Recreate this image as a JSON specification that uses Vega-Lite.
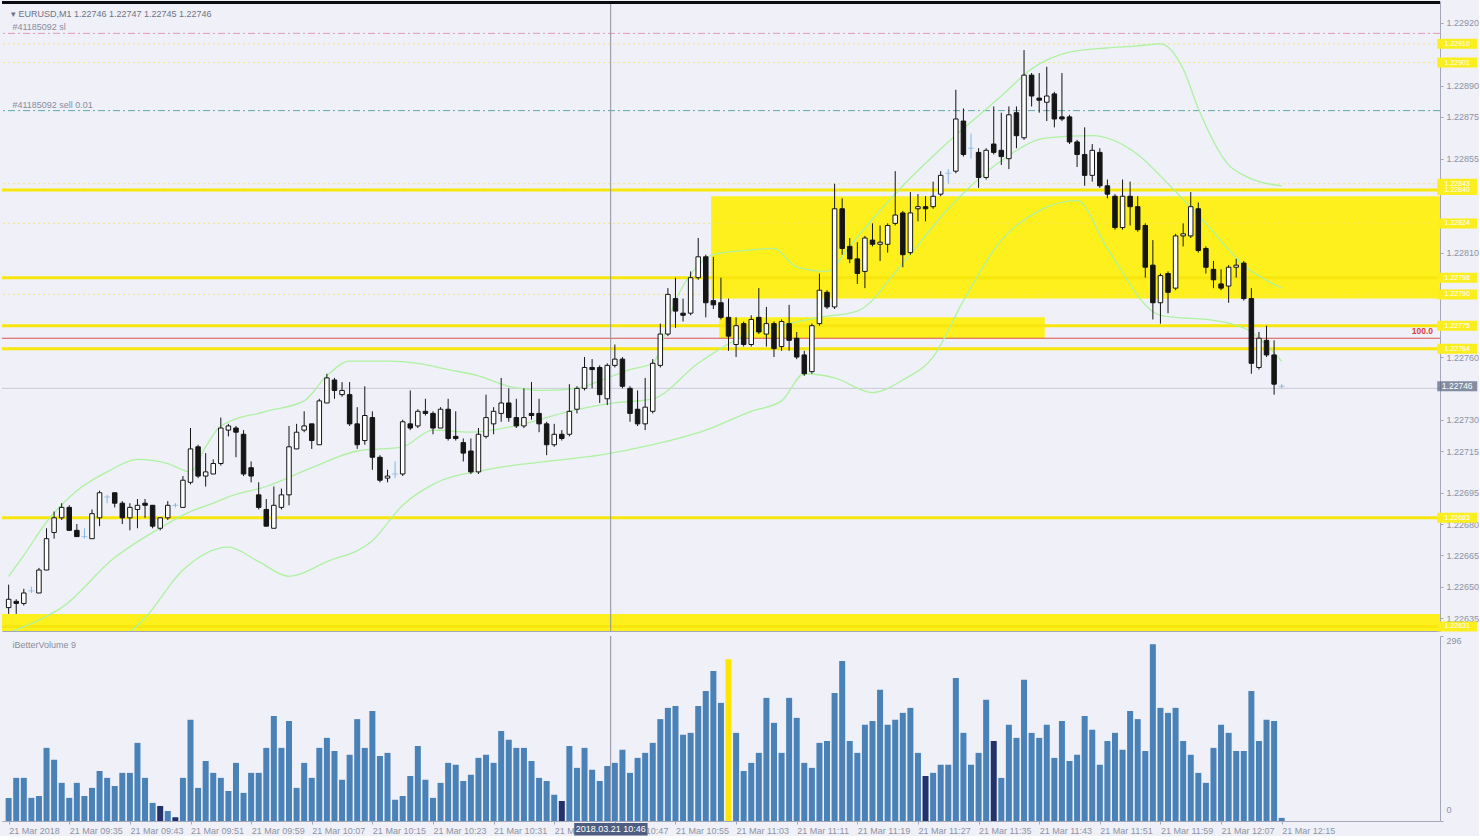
{
  "$schema": "https://vega.github.io/schema/vega-lite/v6.json",
  "background": "#eff0f8",
  "padding": 0,
  "spacing": 3,
  "config": {
    "view": {"stroke": null},
    "font": "Liberation Sans",
    "axis": {"labelFont": "Liberation Sans", "labelFontSize": 9, "labelColor": "#8e93a3", "tickColor": "#a3a7b7", "domainColor": "#a3a7b7", "grid": false, "tickSize": 3}
  },
  "datasets": {
    "bars": [
      {"t":"2018-03-21T09:27Z","o":1.22640,"h":1.22651,"l":1.22637,"c":1.22644,"v":37,"k":"normal"},
      {"t":"2018-03-21T09:28Z","o":1.22643,"h":1.22644,"l":1.22637,"c":1.22642,"v":69,"k":"normal"},
      {"t":"2018-03-21T09:29Z","o":1.22642,"h":1.22649,"l":1.22641,"c":1.22647,"v":69,"k":"normal"},
      {"t":"2018-03-21T09:30Z","o":1.22648,"h":1.22650,"l":1.22647,"c":1.22648,"v":37,"k":"normal"},
      {"t":"2018-03-21T09:31Z","o":1.22647,"h":1.22659,"l":1.22647,"c":1.22658,"v":40,"k":"normal"},
      {"t":"2018-03-21T09:32Z","o":1.22658,"h":1.22678,"l":1.22658,"c":1.22673,"v":117,"k":"normal"},
      {"t":"2018-03-21T09:33Z","o":1.22676,"h":1.22686,"l":1.22673,"c":1.22683,"v":98,"k":"normal"},
      {"t":"2018-03-21T09:34Z","o":1.22683,"h":1.22690,"l":1.22682,"c":1.22688,"v":61,"k":"normal"},
      {"t":"2018-03-21T09:35Z","o":1.22688,"h":1.22689,"l":1.22677,"c":1.22677,"v":37,"k":"normal"},
      {"t":"2018-03-21T09:36Z","o":1.22677,"h":1.22680,"l":1.22674,"c":1.22674,"v":61,"k":"normal"},
      {"t":"2018-03-21T09:37Z","o":1.22674,"h":1.22678,"l":1.22673,"c":1.22674,"v":40,"k":"normal"},
      {"t":"2018-03-21T09:38Z","o":1.22673,"h":1.22687,"l":1.22673,"c":1.22685,"v":53,"k":"normal"},
      {"t":"2018-03-21T09:39Z","o":1.22683,"h":1.22696,"l":1.22679,"c":1.22695,"v":80,"k":"normal"},
      {"t":"2018-03-21T09:40Z","o":1.22693,"h":1.22694,"l":1.22690,"c":1.22693,"v":69,"k":"normal"},
      {"t":"2018-03-21T09:41Z","o":1.22695,"h":1.22695,"l":1.22688,"c":1.22690,"v":56,"k":"normal"},
      {"t":"2018-03-21T09:42Z","o":1.22690,"h":1.22691,"l":1.22680,"c":1.22683,"v":77,"k":"normal"},
      {"t":"2018-03-21T09:43Z","o":1.22683,"h":1.22690,"l":1.22677,"c":1.22688,"v":77,"k":"normal"},
      {"t":"2018-03-21T09:44Z","o":1.22687,"h":1.22692,"l":1.22678,"c":1.22689,"v":125,"k":"normal"},
      {"t":"2018-03-21T09:45Z","o":1.22690,"h":1.22692,"l":1.22683,"c":1.22689,"v":69,"k":"normal"},
      {"t":"2018-03-21T09:46Z","o":1.22689,"h":1.22689,"l":1.22678,"c":1.22679,"v":29,"k":"normal"},
      {"t":"2018-03-21T09:47Z","o":1.22678,"h":1.22683,"l":1.22677,"c":1.22683,"v":24,"k":"low"},
      {"t":"2018-03-21T09:48Z","o":1.22683,"h":1.22691,"l":1.22682,"c":1.22689,"v":16,"k":"normal"},
      {"t":"2018-03-21T09:49Z","o":1.22689,"h":1.22690,"l":1.22688,"c":1.22689,"v":6,"k":"low"},
      {"t":"2018-03-21T09:50Z","o":1.22688,"h":1.22703,"l":1.22688,"c":1.22701,"v":69,"k":"normal"},
      {"t":"2018-03-21T09:51Z","o":1.22700,"h":1.22726,"l":1.22699,"c":1.22716,"v":162,"k":"normal"},
      {"t":"2018-03-21T09:52Z","o":1.22717,"h":1.22718,"l":1.22702,"c":1.22703,"v":53,"k":"normal"},
      {"t":"2018-03-21T09:53Z","o":1.22703,"h":1.22714,"l":1.22698,"c":1.22705,"v":96,"k":"normal"},
      {"t":"2018-03-21T09:54Z","o":1.22704,"h":1.22711,"l":1.22704,"c":1.22709,"v":77,"k":"normal"},
      {"t":"2018-03-21T09:55Z","o":1.22709,"h":1.22731,"l":1.22708,"c":1.22726,"v":69,"k":"normal"},
      {"t":"2018-03-21T09:56Z","o":1.22725,"h":1.22728,"l":1.22722,"c":1.22727,"v":48,"k":"normal"},
      {"t":"2018-03-21T09:57Z","o":1.22726,"h":1.22727,"l":1.22712,"c":1.22724,"v":93,"k":"normal"},
      {"t":"2018-03-21T09:58Z","o":1.22723,"h":1.22725,"l":1.22703,"c":1.22704,"v":45,"k":"normal"},
      {"t":"2018-03-21T09:59Z","o":1.22707,"h":1.22710,"l":1.22700,"c":1.22703,"v":77,"k":"normal"},
      {"t":"2018-03-21T10:00Z","o":1.22694,"h":1.22700,"l":1.22687,"c":1.22688,"v":77,"k":"normal"},
      {"t":"2018-03-21T10:01Z","o":1.22687,"h":1.22692,"l":1.22679,"c":1.22679,"v":117,"k":"normal"},
      {"t":"2018-03-21T10:02Z","o":1.22678,"h":1.22698,"l":1.22678,"c":1.22689,"v":168,"k":"normal"},
      {"t":"2018-03-21T10:03Z","o":1.22688,"h":1.22697,"l":1.22687,"c":1.22694,"v":117,"k":"normal"},
      {"t":"2018-03-21T10:04Z","o":1.22694,"h":1.22727,"l":1.22689,"c":1.22717,"v":160,"k":"normal"},
      {"t":"2018-03-21T10:05Z","o":1.22716,"h":1.22728,"l":1.22716,"c":1.22724,"v":53,"k":"normal"},
      {"t":"2018-03-21T10:06Z","o":1.22725,"h":1.22734,"l":1.22724,"c":1.22727,"v":93,"k":"normal"},
      {"t":"2018-03-21T10:07Z","o":1.22728,"h":1.22728,"l":1.22716,"c":1.22720,"v":69,"k":"normal"},
      {"t":"2018-03-21T10:08Z","o":1.22718,"h":1.22740,"l":1.22718,"c":1.22739,"v":117,"k":"normal"},
      {"t":"2018-03-21T10:09Z","o":1.22738,"h":1.22752,"l":1.22738,"c":1.22750,"v":133,"k":"normal"},
      {"t":"2018-03-21T10:10Z","o":1.22749,"h":1.22750,"l":1.22740,"c":1.22744,"v":112,"k":"normal"},
      {"t":"2018-03-21T10:11Z","o":1.22742,"h":1.22748,"l":1.22741,"c":1.22744,"v":66,"k":"normal"},
      {"t":"2018-03-21T10:12Z","o":1.22742,"h":1.22748,"l":1.22727,"c":1.22728,"v":106,"k":"normal"},
      {"t":"2018-03-21T10:13Z","o":1.22728,"h":1.22736,"l":1.22716,"c":1.22718,"v":163,"k":"normal"},
      {"t":"2018-03-21T10:14Z","o":1.22720,"h":1.22746,"l":1.22718,"c":1.22732,"v":117,"k":"normal"},
      {"t":"2018-03-21T10:15Z","o":1.22731,"h":1.22734,"l":1.22706,"c":1.22712,"v":176,"k":"normal"},
      {"t":"2018-03-21T10:16Z","o":1.22712,"h":1.22713,"l":1.22700,"c":1.22701,"v":104,"k":"normal"},
      {"t":"2018-03-21T10:17Z","o":1.22702,"h":1.22706,"l":1.22700,"c":1.22703,"v":109,"k":"normal"},
      {"t":"2018-03-21T10:18Z","o":1.22704,"h":1.22710,"l":1.22702,"c":1.22704,"v":34,"k":"normal"},
      {"t":"2018-03-21T10:19Z","o":1.22704,"h":1.22730,"l":1.22703,"c":1.22729,"v":40,"k":"normal"},
      {"t":"2018-03-21T10:20Z","o":1.22728,"h":1.22744,"l":1.22725,"c":1.22726,"v":72,"k":"normal"},
      {"t":"2018-03-21T10:21Z","o":1.22727,"h":1.22735,"l":1.22726,"c":1.22734,"v":120,"k":"normal"},
      {"t":"2018-03-21T10:22Z","o":1.22734,"h":1.22740,"l":1.22732,"c":1.22733,"v":66,"k":"normal"},
      {"t":"2018-03-21T10:23Z","o":1.22733,"h":1.22734,"l":1.22723,"c":1.22726,"v":37,"k":"normal"},
      {"t":"2018-03-21T10:24Z","o":1.22726,"h":1.22736,"l":1.22726,"c":1.22735,"v":61,"k":"normal"},
      {"t":"2018-03-21T10:25Z","o":1.22735,"h":1.22740,"l":1.22720,"c":1.22721,"v":93,"k":"normal"},
      {"t":"2018-03-21T10:26Z","o":1.22722,"h":1.22734,"l":1.22720,"c":1.22721,"v":90,"k":"normal"},
      {"t":"2018-03-21T10:27Z","o":1.22719,"h":1.22721,"l":1.22710,"c":1.22714,"v":64,"k":"normal"},
      {"t":"2018-03-21T10:28Z","o":1.22715,"h":1.22721,"l":1.22704,"c":1.22705,"v":74,"k":"normal"},
      {"t":"2018-03-21T10:29Z","o":1.22705,"h":1.22726,"l":1.22704,"c":1.22723,"v":101,"k":"normal"},
      {"t":"2018-03-21T10:30Z","o":1.22722,"h":1.22742,"l":1.22721,"c":1.22731,"v":106,"k":"normal"},
      {"t":"2018-03-21T10:31Z","o":1.22728,"h":1.22736,"l":1.22723,"c":1.22734,"v":93,"k":"normal"},
      {"t":"2018-03-21T10:32Z","o":1.22733,"h":1.22750,"l":1.22729,"c":1.22738,"v":144,"k":"normal"},
      {"t":"2018-03-21T10:33Z","o":1.22738,"h":1.22745,"l":1.22729,"c":1.22731,"v":130,"k":"normal"},
      {"t":"2018-03-21T10:34Z","o":1.22731,"h":1.22740,"l":1.22726,"c":1.22727,"v":117,"k":"normal"},
      {"t":"2018-03-21T10:35Z","o":1.22727,"h":1.22745,"l":1.22726,"c":1.22731,"v":117,"k":"normal"},
      {"t":"2018-03-21T10:36Z","o":1.22733,"h":1.22748,"l":1.22730,"c":1.22732,"v":96,"k":"normal"},
      {"t":"2018-03-21T10:37Z","o":1.22733,"h":1.22740,"l":1.22724,"c":1.22728,"v":69,"k":"normal"},
      {"t":"2018-03-21T10:38Z","o":1.22728,"h":1.22729,"l":1.22713,"c":1.22718,"v":64,"k":"normal"},
      {"t":"2018-03-21T10:39Z","o":1.22718,"h":1.22728,"l":1.22717,"c":1.22723,"v":42,"k":"normal"},
      {"t":"2018-03-21T10:40Z","o":1.22723,"h":1.22725,"l":1.22720,"c":1.22721,"v":32,"k":"low"},
      {"t":"2018-03-21T10:41Z","o":1.22723,"h":1.22747,"l":1.22722,"c":1.22734,"v":120,"k":"normal"},
      {"t":"2018-03-21T10:42Z","o":1.22735,"h":1.22746,"l":1.22733,"c":1.22745,"v":85,"k":"normal"},
      {"t":"2018-03-21T10:43Z","o":1.22745,"h":1.22760,"l":1.22744,"c":1.22755,"v":117,"k":"normal"},
      {"t":"2018-03-21T10:44Z","o":1.22755,"h":1.22759,"l":1.22745,"c":1.22754,"v":82,"k":"normal"},
      {"t":"2018-03-21T10:45Z","o":1.22755,"h":1.22756,"l":1.22738,"c":1.22742,"v":64,"k":"normal"},
      {"t":"2018-03-21T10:46Z","o":1.22740,"h":1.22757,"l":1.22737,"c":1.22756,"v":88,"k":"normal"},
      {"t":"2018-03-21T10:47Z","o":1.22756,"h":1.22766,"l":1.22755,"c":1.22759,"v":93,"k":"normal"},
      {"t":"2018-03-21T10:48Z","o":1.22759,"h":1.22760,"l":1.22745,"c":1.22746,"v":114,"k":"normal"},
      {"t":"2018-03-21T10:49Z","o":1.22745,"h":1.22746,"l":1.22729,"c":1.22733,"v":77,"k":"normal"},
      {"t":"2018-03-21T10:50Z","o":1.22735,"h":1.22744,"l":1.22727,"c":1.22728,"v":101,"k":"normal"},
      {"t":"2018-03-21T10:51Z","o":1.22728,"h":1.22750,"l":1.22725,"c":1.22736,"v":109,"k":"normal"},
      {"t":"2018-03-21T10:52Z","o":1.22734,"h":1.22759,"l":1.22733,"c":1.22757,"v":125,"k":"normal"},
      {"t":"2018-03-21T10:53Z","o":1.22756,"h":1.22776,"l":1.22755,"c":1.22771,"v":163,"k":"normal"},
      {"t":"2018-03-21T10:54Z","o":1.22771,"h":1.22793,"l":1.22770,"c":1.22790,"v":181,"k":"normal"},
      {"t":"2018-03-21T10:55Z","o":1.22788,"h":1.22798,"l":1.22774,"c":1.22782,"v":184,"k":"normal"},
      {"t":"2018-03-21T10:56Z","o":1.22781,"h":1.22788,"l":1.22777,"c":1.22780,"v":138,"k":"normal"},
      {"t":"2018-03-21T10:57Z","o":1.22781,"h":1.22801,"l":1.22780,"c":1.22798,"v":141,"k":"normal"},
      {"t":"2018-03-21T10:58Z","o":1.22798,"h":1.22817,"l":1.22797,"c":1.22808,"v":184,"k":"normal"},
      {"t":"2018-03-21T10:59Z","o":1.22808,"h":1.22809,"l":1.22779,"c":1.22786,"v":208,"k":"normal"},
      {"t":"2018-03-21T11:00Z","o":1.22787,"h":1.22808,"l":1.22783,"c":1.22785,"v":240,"k":"normal"},
      {"t":"2018-03-21T11:01Z","o":1.22786,"h":1.22798,"l":1.22778,"c":1.22779,"v":189,"k":"normal"},
      {"t":"2018-03-21T11:02Z","o":1.22779,"h":1.22788,"l":1.22763,"c":1.22770,"v":259,"k":"climax"},
      {"t":"2018-03-21T11:03Z","o":1.22766,"h":1.22779,"l":1.22760,"c":1.22775,"v":141,"k":"normal"},
      {"t":"2018-03-21T11:04Z","o":1.22776,"h":1.22777,"l":1.22765,"c":1.22766,"v":80,"k":"normal"},
      {"t":"2018-03-21T11:05Z","o":1.22766,"h":1.22780,"l":1.22765,"c":1.22778,"v":93,"k":"normal"},
      {"t":"2018-03-21T11:06Z","o":1.22779,"h":1.22793,"l":1.22771,"c":1.22772,"v":109,"k":"normal"},
      {"t":"2018-03-21T11:07Z","o":1.22771,"h":1.22784,"l":1.22765,"c":1.22776,"v":197,"k":"normal"},
      {"t":"2018-03-21T11:08Z","o":1.22776,"h":1.22777,"l":1.22760,"c":1.22764,"v":157,"k":"normal"},
      {"t":"2018-03-21T11:09Z","o":1.22765,"h":1.22778,"l":1.22763,"c":1.22777,"v":109,"k":"normal"},
      {"t":"2018-03-21T11:10Z","o":1.22776,"h":1.22785,"l":1.22763,"c":1.22768,"v":197,"k":"normal"},
      {"t":"2018-03-21T11:11Z","o":1.22769,"h":1.22772,"l":1.22759,"c":1.22760,"v":165,"k":"normal"},
      {"t":"2018-03-21T11:12Z","o":1.22761,"h":1.22763,"l":1.22751,"c":1.22752,"v":93,"k":"normal"},
      {"t":"2018-03-21T11:13Z","o":1.22753,"h":1.22776,"l":1.22752,"c":1.22775,"v":85,"k":"normal"},
      {"t":"2018-03-21T11:14Z","o":1.22776,"h":1.22800,"l":1.22775,"c":1.22792,"v":125,"k":"normal"},
      {"t":"2018-03-21T11:15Z","o":1.22791,"h":1.22792,"l":1.22783,"c":1.22784,"v":128,"k":"normal"},
      {"t":"2018-03-21T11:16Z","o":1.22784,"h":1.22843,"l":1.22783,"c":1.22831,"v":205,"k":"normal"},
      {"t":"2018-03-21T11:17Z","o":1.22831,"h":1.22836,"l":1.22809,"c":1.22812,"v":256,"k":"normal"},
      {"t":"2018-03-21T11:18Z","o":1.22813,"h":1.22817,"l":1.22805,"c":1.22807,"v":128,"k":"normal"},
      {"t":"2018-03-21T11:19Z","o":1.22807,"h":1.22815,"l":1.22795,"c":1.22800,"v":109,"k":"normal"},
      {"t":"2018-03-21T11:20Z","o":1.22801,"h":1.22818,"l":1.22793,"c":1.22817,"v":154,"k":"normal"},
      {"t":"2018-03-21T11:21Z","o":1.22816,"h":1.22824,"l":1.22813,"c":1.22814,"v":160,"k":"normal"},
      {"t":"2018-03-21T11:22Z","o":1.22814,"h":1.22823,"l":1.22806,"c":1.22815,"v":210,"k":"normal"},
      {"t":"2018-03-21T11:23Z","o":1.22814,"h":1.22824,"l":1.22810,"c":1.22823,"v":154,"k":"normal"},
      {"t":"2018-03-21T11:24Z","o":1.22824,"h":1.22849,"l":1.22823,"c":1.22828,"v":162,"k":"normal"},
      {"t":"2018-03-21T11:25Z","o":1.22829,"h":1.22830,"l":1.22803,"c":1.22809,"v":173,"k":"normal"},
      {"t":"2018-03-21T11:26Z","o":1.22810,"h":1.22839,"l":1.22809,"c":1.22829,"v":181,"k":"normal"},
      {"t":"2018-03-21T11:27Z","o":1.22831,"h":1.22838,"l":1.22825,"c":1.22832,"v":109,"k":"normal"},
      {"t":"2018-03-21T11:28Z","o":1.22832,"h":1.22837,"l":1.22825,"c":1.22831,"v":72,"k":"low"},
      {"t":"2018-03-21T11:29Z","o":1.22832,"h":1.22844,"l":1.22831,"c":1.22837,"v":77,"k":"normal"},
      {"t":"2018-03-21T11:30Z","o":1.22838,"h":1.22849,"l":1.22837,"c":1.22847,"v":90,"k":"normal"},
      {"t":"2018-03-21T11:31Z","o":1.22848,"h":1.22850,"l":1.22843,"c":1.22848,"v":90,"k":"normal"},
      {"t":"2018-03-21T11:32Z","o":1.22849,"h":1.22888,"l":1.22848,"c":1.22874,"v":229,"k":"normal"},
      {"t":"2018-03-21T11:33Z","o":1.22873,"h":1.22879,"l":1.22856,"c":1.22857,"v":141,"k":"normal"},
      {"t":"2018-03-21T11:34Z","o":1.22860,"h":1.22867,"l":1.22855,"c":1.22860,"v":90,"k":"normal"},
      {"t":"2018-03-21T11:35Z","o":1.22858,"h":1.22860,"l":1.22841,"c":1.22846,"v":109,"k":"normal"},
      {"t":"2018-03-21T11:36Z","o":1.22846,"h":1.22860,"l":1.22845,"c":1.22859,"v":194,"k":"normal"},
      {"t":"2018-03-21T11:37Z","o":1.22862,"h":1.22880,"l":1.22857,"c":1.22858,"v":128,"k":"low"},
      {"t":"2018-03-21T11:38Z","o":1.22859,"h":1.22877,"l":1.22852,"c":1.22856,"v":69,"k":"normal"},
      {"t":"2018-03-21T11:39Z","o":1.22855,"h":1.22880,"l":1.22850,"c":1.22876,"v":154,"k":"normal"},
      {"t":"2018-03-21T11:40Z","o":1.22877,"h":1.22880,"l":1.22860,"c":1.22866,"v":133,"k":"normal"},
      {"t":"2018-03-21T11:41Z","o":1.22865,"h":1.22907,"l":1.22864,"c":1.22895,"v":226,"k":"normal"},
      {"t":"2018-03-21T11:42Z","o":1.22895,"h":1.22896,"l":1.22880,"c":1.22885,"v":141,"k":"normal"},
      {"t":"2018-03-21T11:43Z","o":1.22884,"h":1.22896,"l":1.22877,"c":1.22883,"v":133,"k":"normal"},
      {"t":"2018-03-21T11:44Z","o":1.22882,"h":1.22899,"l":1.22873,"c":1.22885,"v":154,"k":"normal"},
      {"t":"2018-03-21T11:45Z","o":1.22886,"h":1.22887,"l":1.22870,"c":1.22874,"v":101,"k":"normal"},
      {"t":"2018-03-21T11:46Z","o":1.22875,"h":1.22896,"l":1.22873,"c":1.22874,"v":160,"k":"normal"},
      {"t":"2018-03-21T11:47Z","o":1.22875,"h":1.22876,"l":1.22862,"c":1.22863,"v":96,"k":"normal"},
      {"t":"2018-03-21T11:48Z","o":1.22863,"h":1.22864,"l":1.22851,"c":1.22857,"v":106,"k":"normal"},
      {"t":"2018-03-21T11:49Z","o":1.22857,"h":1.22870,"l":1.22842,"c":1.22847,"v":168,"k":"normal"},
      {"t":"2018-03-21T11:50Z","o":1.22847,"h":1.22862,"l":1.22844,"c":1.22859,"v":146,"k":"normal"},
      {"t":"2018-03-21T11:51Z","o":1.22858,"h":1.22860,"l":1.22841,"c":1.22842,"v":90,"k":"normal"},
      {"t":"2018-03-21T11:52Z","o":1.22842,"h":1.22845,"l":1.22836,"c":1.22838,"v":128,"k":"normal"},
      {"t":"2018-03-21T11:53Z","o":1.22837,"h":1.22838,"l":1.22821,"c":1.22822,"v":141,"k":"normal"},
      {"t":"2018-03-21T11:54Z","o":1.22822,"h":1.22845,"l":1.22821,"c":1.22837,"v":114,"k":"normal"},
      {"t":"2018-03-21T11:55Z","o":1.22837,"h":1.22844,"l":1.22823,"c":1.22832,"v":176,"k":"normal"},
      {"t":"2018-03-21T11:56Z","o":1.22832,"h":1.22837,"l":1.22820,"c":1.22821,"v":163,"k":"normal"},
      {"t":"2018-03-21T11:57Z","o":1.22823,"h":1.22824,"l":1.22798,"c":1.22803,"v":112,"k":"normal"},
      {"t":"2018-03-21T11:58Z","o":1.22804,"h":1.22816,"l":1.22778,"c":1.22786,"v":283,"k":"normal"},
      {"t":"2018-03-21T11:59Z","o":1.22786,"h":1.22800,"l":1.22776,"c":1.22799,"v":181,"k":"normal"},
      {"t":"2018-03-21T12:00Z","o":1.22800,"h":1.22801,"l":1.22781,"c":1.22791,"v":173,"k":"normal"},
      {"t":"2018-03-21T12:01Z","o":1.22793,"h":1.22819,"l":1.22792,"c":1.22818,"v":181,"k":"normal"},
      {"t":"2018-03-21T12:02Z","o":1.22818,"h":1.22824,"l":1.22813,"c":1.22819,"v":128,"k":"normal"},
      {"t":"2018-03-21T12:03Z","o":1.22818,"h":1.22839,"l":1.22817,"c":1.22832,"v":106,"k":"normal"},
      {"t":"2018-03-21T12:04Z","o":1.22831,"h":1.22834,"l":1.22810,"c":1.22811,"v":77,"k":"normal"},
      {"t":"2018-03-21T12:05Z","o":1.22812,"h":1.22813,"l":1.22800,"c":1.22803,"v":61,"k":"normal"},
      {"t":"2018-03-21T12:06Z","o":1.22802,"h":1.22806,"l":1.22793,"c":1.22797,"v":117,"k":"normal"},
      {"t":"2018-03-21T12:07Z","o":1.22795,"h":1.22802,"l":1.22792,"c":1.22793,"v":154,"k":"normal"},
      {"t":"2018-03-21T12:08Z","o":1.22794,"h":1.22804,"l":1.22786,"c":1.22803,"v":141,"k":"normal"},
      {"t":"2018-03-21T12:09Z","o":1.22803,"h":1.22807,"l":1.22798,"c":1.22804,"v":112,"k":"normal"},
      {"t":"2018-03-21T12:10Z","o":1.22805,"h":1.22806,"l":1.22787,"c":1.22788,"v":112,"k":"normal"},
      {"t":"2018-03-21T12:11Z","o":1.22788,"h":1.22793,"l":1.22752,"c":1.22757,"v":208,"k":"normal"},
      {"t":"2018-03-21T12:12Z","o":1.22755,"h":1.22772,"l":1.22754,"c":1.22769,"v":128,"k":"normal"},
      {"t":"2018-03-21T12:13Z","o":1.22768,"h":1.22775,"l":1.22760,"c":1.22761,"v":162,"k":"normal"},
      {"t":"2018-03-21T12:14Z","o":1.22761,"h":1.22768,"l":1.22742,"c":1.22747,"v":160,"k":"normal"},
      {"t":"2018-03-21T12:15Z","o":1.22746,"h":1.22747,"l":1.22745,"c":1.22746,"v":5,"k":"normal"}
    ],
    "bands": [
      {"band":"upper","t":"2018-03-21T09:27Z","p":1.22655},
      {"band":"upper","t":"2018-03-21T09:29Z","p":1.22665},
      {"band":"upper","t":"2018-03-21T09:32Z","p":1.22681},
      {"band":"upper","t":"2018-03-21T09:36Z","p":1.22696},
      {"band":"upper","t":"2018-03-21T09:40Z","p":1.22705},
      {"band":"upper","t":"2018-03-21T09:44Z","p":1.22711},
      {"band":"upper","t":"2018-03-21T09:48Z","p":1.22709},
      {"band":"upper","t":"2018-03-21T09:51Z","p":1.22705},
      {"band":"upper","t":"2018-03-21T09:53Z","p":1.22717},
      {"band":"upper","t":"2018-03-21T09:55Z","p":1.22727},
      {"band":"upper","t":"2018-03-21T10:01Z","p":1.22734},
      {"band":"upper","t":"2018-03-21T10:06Z","p":1.22739},
      {"band":"upper","t":"2018-03-21T10:09Z","p":1.22751},
      {"band":"upper","t":"2018-03-21T10:12Z","p":1.22758},
      {"band":"upper","t":"2018-03-21T10:17Z","p":1.22758},
      {"band":"upper","t":"2018-03-21T10:21Z","p":1.22757},
      {"band":"upper","t":"2018-03-21T10:25Z","p":1.22754},
      {"band":"upper","t":"2018-03-21T10:29Z","p":1.22751},
      {"band":"upper","t":"2018-03-21T10:33Z","p":1.22746},
      {"band":"upper","t":"2018-03-21T10:38Z","p":1.22744},
      {"band":"upper","t":"2018-03-21T10:42Z","p":1.22745},
      {"band":"upper","t":"2018-03-21T10:46Z","p":1.22750},
      {"band":"upper","t":"2018-03-21T10:49Z","p":1.22754},
      {"band":"upper","t":"2018-03-21T10:52Z","p":1.22757},
      {"band":"upper","t":"2018-03-21T10:55Z","p":1.22787},
      {"band":"upper","t":"2018-03-21T10:58Z","p":1.22804},
      {"band":"upper","t":"2018-03-21T11:00Z","p":1.22809},
      {"band":"upper","t":"2018-03-21T11:04Z","p":1.22811},
      {"band":"upper","t":"2018-03-21T11:08Z","p":1.22812},
      {"band":"upper","t":"2018-03-21T11:11Z","p":1.22803},
      {"band":"upper","t":"2018-03-21T11:15Z","p":1.22801},
      {"band":"upper","t":"2018-03-21T11:18Z","p":1.22813},
      {"band":"upper","t":"2018-03-21T11:21Z","p":1.22826},
      {"band":"upper","t":"2018-03-21T11:25Z","p":1.22842},
      {"band":"upper","t":"2018-03-21T11:31Z","p":1.22863},
      {"band":"upper","t":"2018-03-21T11:38Z","p":1.22885},
      {"band":"upper","t":"2018-03-21T11:42Z","p":1.22898},
      {"band":"upper","t":"2018-03-21T11:47Z","p":1.22906},
      {"band":"upper","t":"2018-03-21T11:52Z","p":1.22908},
      {"band":"upper","t":"2018-03-21T11:56Z","p":1.22909},
      {"band":"upper","t":"2018-03-21T11:59Z","p":1.22910},
      {"band":"upper","t":"2018-03-21T12:02Z","p":1.22898},
      {"band":"upper","t":"2018-03-21T12:04Z","p":1.22879},
      {"band":"upper","t":"2018-03-21T12:08Z","p":1.22852},
      {"band":"upper","t":"2018-03-21T12:10Z","p":1.22847},
      {"band":"upper","t":"2018-03-21T12:15Z","p":1.22842},
      {"band":"mid","t":"2018-03-21T09:27Z","p":1.22628},
      {"band":"mid","t":"2018-03-21T09:31Z","p":1.22634},
      {"band":"mid","t":"2018-03-21T09:34Z","p":1.22640},
      {"band":"mid","t":"2018-03-21T09:41Z","p":1.22664},
      {"band":"mid","t":"2018-03-21T09:46Z","p":1.22676},
      {"band":"mid","t":"2018-03-21T09:51Z","p":1.22686},
      {"band":"mid","t":"2018-03-21T09:54Z","p":1.22690},
      {"band":"mid","t":"2018-03-21T09:56Z","p":1.22693},
      {"band":"mid","t":"2018-03-21T10:01Z","p":1.22698},
      {"band":"mid","t":"2018-03-21T10:07Z","p":1.22707},
      {"band":"mid","t":"2018-03-21T10:13Z","p":1.22715},
      {"band":"mid","t":"2018-03-21T10:19Z","p":1.22717},
      {"band":"mid","t":"2018-03-21T10:23Z","p":1.22725},
      {"band":"mid","t":"2018-03-21T10:28Z","p":1.22724},
      {"band":"mid","t":"2018-03-21T10:35Z","p":1.22728},
      {"band":"mid","t":"2018-03-21T10:41Z","p":1.22734},
      {"band":"mid","t":"2018-03-21T10:47Z","p":1.22738},
      {"band":"mid","t":"2018-03-21T10:52Z","p":1.22740},
      {"band":"mid","t":"2018-03-21T10:58Z","p":1.22757},
      {"band":"mid","t":"2018-03-21T11:04Z","p":1.22770},
      {"band":"mid","t":"2018-03-21T11:10Z","p":1.22776},
      {"band":"mid","t":"2018-03-21T11:14Z","p":1.22779},
      {"band":"mid","t":"2018-03-21T11:19Z","p":1.22782},
      {"band":"mid","t":"2018-03-21T11:25Z","p":1.22805},
      {"band":"mid","t":"2018-03-21T11:31Z","p":1.22831},
      {"band":"mid","t":"2018-03-21T11:38Z","p":1.22854},
      {"band":"mid","t":"2018-03-21T11:44Z","p":1.22865},
      {"band":"mid","t":"2018-03-21T11:50Z","p":1.22866},
      {"band":"mid","t":"2018-03-21T11:56Z","p":1.22857},
      {"band":"mid","t":"2018-03-21T12:00Z","p":1.22843},
      {"band":"mid","t":"2018-03-21T12:05Z","p":1.22824},
      {"band":"mid","t":"2018-03-21T12:10Z","p":1.22804},
      {"band":"mid","t":"2018-03-21T12:15Z","p":1.22793},
      {"band":"lower","t":"2018-03-21T09:35Z","p":1.22600},
      {"band":"lower","t":"2018-03-21T09:40Z","p":1.22619},
      {"band":"lower","t":"2018-03-21T09:45Z","p":1.22635},
      {"band":"lower","t":"2018-03-21T09:50Z","p":1.22658},
      {"band":"lower","t":"2018-03-21T09:56Z","p":1.22669},
      {"band":"lower","t":"2018-03-21T10:00Z","p":1.22662},
      {"band":"lower","t":"2018-03-21T10:04Z","p":1.22655},
      {"band":"lower","t":"2018-03-21T10:09Z","p":1.22662},
      {"band":"lower","t":"2018-03-21T10:15Z","p":1.22672},
      {"band":"lower","t":"2018-03-21T10:19Z","p":1.22689},
      {"band":"lower","t":"2018-03-21T10:23Z","p":1.22699},
      {"band":"lower","t":"2018-03-21T10:30Z","p":1.22706},
      {"band":"lower","t":"2018-03-21T10:38Z","p":1.22710},
      {"band":"lower","t":"2018-03-21T10:45Z","p":1.22713},
      {"band":"lower","t":"2018-03-21T10:52Z","p":1.22718},
      {"band":"lower","t":"2018-03-21T10:59Z","p":1.22725},
      {"band":"lower","t":"2018-03-21T11:05Z","p":1.22734},
      {"band":"lower","t":"2018-03-21T11:09Z","p":1.22739},
      {"band":"lower","t":"2018-03-21T11:12Z","p":1.22752},
      {"band":"lower","t":"2018-03-21T11:16Z","p":1.22750},
      {"band":"lower","t":"2018-03-21T11:21Z","p":1.22743},
      {"band":"lower","t":"2018-03-21T11:25Z","p":1.22749},
      {"band":"lower","t":"2018-03-21T11:29Z","p":1.22760},
      {"band":"lower","t":"2018-03-21T11:33Z","p":1.22787},
      {"band":"lower","t":"2018-03-21T11:38Z","p":1.22816},
      {"band":"lower","t":"2018-03-21T11:43Z","p":1.22830},
      {"band":"lower","t":"2018-03-21T11:48Z","p":1.22835},
      {"band":"lower","t":"2018-03-21T11:52Z","p":1.22812},
      {"band":"lower","t":"2018-03-21T11:59Z","p":1.22780},
      {"band":"lower","t":"2018-03-21T12:07Z","p":1.22777},
      {"band":"lower","t":"2018-03-21T12:11Z","p":1.22772},
      {"band":"lower","t":"2018-03-21T12:15Z","p":1.22758}
    ],
    "levels": [
      {"p":1.22915,"kind":"sl","name":"#41185092 sl"},
      {"p":1.22878,"kind":"order","name":"#41185092 sell 0.01"},
      {"p":1.22910,"kind":"faint"},
      {"p":1.22901,"kind":"faint"},
      {"p":1.22843,"kind":"faint"},
      {"p":1.22824,"kind":"faint"},
      {"p":1.22790,"kind":"faint"},
      {"p":1.22840,"kind":"line"},
      {"p":1.22798,"kind":"line"},
      {"p":1.22775,"kind":"line"},
      {"p":1.22764,"kind":"line"},
      {"p":1.22683,"kind":"line"},
      {"p":1.22631,"kind":"line"},
      {"p":1.22769,"kind":"fibo","name":"100.0"},
      {"p":1.22745,"kind":"bid"}
    ],
    "zones": [
      {"t0":"2018-03-21T10:59:42Z","t1":"2018-03-21T12:40Z","p0":1.22788,"p1":1.22837},
      {"t0":"2018-03-21T11:00:47Z","t1":"2018-03-21T11:43:44Z","p0":1.22769,"p1":1.22779},
      {"t0":"2018-03-21T09:20Z","t1":"2018-03-21T12:40Z","p0":1.22600,"p1":1.22637}
    ]
  },
  "vconcat": [
    {
      "width": 1438,
      "height": 630,
      "layer": [
        {
          "data": {"name": "zones"},
          "mark": {"type": "rect", "color": "#fdf01c", "clip": true},
          "encoding": {
            "x": {"field": "t0", "type": "temporal", "scale": {"type": "utc", "domain": [{"year":2018,"month":3,"date":21,"hours":9,"minutes":26,"seconds":47,"utc":true},{"year":2018,"month":3,"date":21,"hours":12,"minutes":35,"seconds":14,"utc":true}]}, "axis": {"orient": "bottom", "labels": false, "ticks": false, "domain": true, "title": null}},
            "x2": {"field": "t1"},
            "y": {"field": "p0", "type": "quantitative", "scale": {"domain": [1.226288, 1.229305], "zero": false, "nice": false}, "axis": {"orient": "right", "title": null, "format": ".5f", "labelPadding": 3, "values": [1.22635, 1.2265, 1.22665, 1.2268, 1.22695, 1.22715, 1.2273, 1.2276, 1.2281, 1.22855, 1.22875, 1.2289, 1.2292]}},
            "y2": {"field": "p1"}
          }
        },
        {
          "data": {"name": "levels"},
          "transform": [{"filter": "datum.kind == 'faint'"}],
          "mark": {"type": "rule", "color": "#f3e36a", "strokeWidth": 1, "strokeDash": [2, 3], "opacity": 0.8},
          "encoding": {"y": {"field": "p", "type": "quantitative", "title": null}}
        },
        {
          "data": {"name": "levels"},
          "transform": [{"filter": "datum.kind == 'line'"}],
          "mark": {"type": "rule", "color": "#f8e70c", "strokeWidth": 3},
          "encoding": {"y": {"field": "p", "type": "quantitative", "title": null}}
        },
        {
          "data": {"name": "levels"},
          "transform": [{"filter": "datum.kind == 'sl'"}],
          "mark": {"type": "rule", "color": "#e49ab9", "strokeWidth": 1, "strokeDash": [7, 3, 2, 3]},
          "encoding": {"y": {"field": "p", "type": "quantitative", "title": null}}
        },
        {
          "data": {"name": "levels"},
          "transform": [{"filter": "datum.kind == 'order'"}],
          "mark": {"type": "rule", "color": "#5fa8a8", "strokeWidth": 1, "strokeDash": [7, 3, 2, 3]},
          "encoding": {"y": {"field": "p", "type": "quantitative", "title": null}}
        },
        {
          "data": {"name": "levels"},
          "transform": [{"filter": "datum.kind == 'fibo'"}],
          "mark": {"type": "rule", "color": "#d9544f", "strokeWidth": 1.2},
          "encoding": {"y": {"field": "p", "type": "quantitative", "title": null}}
        },
        {
          "data": {"name": "levels"},
          "transform": [{"filter": "datum.kind == 'bid'"}],
          "mark": {"type": "rule", "color": "#c9cad6", "strokeWidth": 1},
          "encoding": {"y": {"field": "p", "type": "quantitative", "title": null}}
        },
        {
          "data": {"name": "bands"},
          "mark": {"type": "line", "color": "#aef2a0", "strokeWidth": 1.3, "interpolate": "monotone", "clip": true},
          "encoding": {
            "x": {"field": "t", "type": "temporal", "title": null},
            "y": {"field": "p", "type": "quantitative", "title": null},
            "detail": {"field": "band", "type": "nominal"}
          }
        },
        {
          "data": {"values": [{}]},
          "mark": {"type": "rule", "color": "#8d91a0", "strokeWidth": 1},
          "encoding": {"x": {"datum": {"year":2018,"month":3,"date":21,"hours":10,"minutes":46,"seconds":27,"utc":true}, "type": "temporal", "title": null}}
        },
        {
          "data": {"name": "bars"},
          "mark": {"type": "rule", "strokeWidth": 1},
          "encoding": {
            "x": {"field": "t", "type": "temporal", "title": null},
            "y": {"field": "l", "type": "quantitative", "title": null},
            "y2": {"field": "h"},
            "color": {"condition": {"test": "datum.o == datum.c", "value": "#86b4dc"}, "value": "#151515"}
          }
        },
        {
          "data": {"name": "bars"},
          "transform": [{"filter": "datum.o != datum.c"}],
          "mark": {"type": "bar", "size": 4.5, "stroke": "#151515", "strokeWidth": 1},
          "encoding": {
            "x": {"field": "t", "type": "temporal", "title": null},
            "y": {"field": "o", "type": "quantitative", "title": null},
            "y2": {"field": "c"},
            "fill": {"condition": {"test": "datum.c > datum.o", "value": "#ffffff"}, "value": "#151515"}
          }
        },
        {
          "data": {"name": "bars"},
          "transform": [{"filter": "datum.o == datum.c"}],
          "mark": {"type": "tick", "orient": "horizontal", "size": 6, "thickness": 1, "color": "#86b4dc"},
          "encoding": {
            "x": {"field": "t", "type": "temporal", "title": null},
            "y": {"field": "o", "type": "quantitative", "title": null}
          }
        },
        {
          "data": {"values": [{}]},
          "mark": {"type": "rect", "color": "#0b0b10", "clip": true},
          "encoding": {
            "x": {"datum": {"year":2018,"month":3,"date":21,"hours":9,"minutes":20,"utc":true}, "type": "temporal", "title": null},
            "x2": {"datum": {"year":2018,"month":3,"date":21,"hours":12,"minutes":40,"utc":true}},
            "y": {"datum": 1.229291, "type": "quantitative", "title": null},
            "y2": {"datum": 1.22935}
          }
        },
        {
          "data": {"values": [{}]},
          "mark": {"type": "text", "align": "left", "baseline": "middle", "fontSize": 9, "color": "#6f7383"},
          "encoding": {
            "x": {"datum": {"year":2018,"month":3,"date":21,"hours":9,"minutes":27,"seconds":18,"utc":true}, "type": "temporal", "title": null},
            "y": {"datum": 1.229243, "type": "quantitative", "title": null},
            "text": {"value": "▾ EURUSD,M1  1.22746 1.22747 1.22745 1.22746"}
          }
        },
        {
          "data": {"name": "levels"},
          "transform": [{"filter": "datum.kind == 'sl' || datum.kind == 'order'"}],
          "mark": {"type": "text", "align": "left", "baseline": "bottom", "dy": -1, "fontSize": 9, "color": "#8a8d9c"},
          "encoding": {
            "x": {"datum": {"year":2018,"month":3,"date":21,"hours":9,"minutes":27,"seconds":30,"utc":true}, "type": "temporal", "title": null},
            "y": {"field": "p", "type": "quantitative", "title": null},
            "text": {"field": "name"}
          }
        },
        {
          "data": {"name": "levels"},
          "transform": [{"filter": "datum.kind == 'fibo'"}],
          "mark": {"type": "text", "align": "right", "baseline": "bottom", "dy": -2, "dx": -2, "fontSize": 8.5, "fontWeight": "bold", "color": "#d9403c"},
          "encoding": {
            "x": {"datum": {"year":2018,"month":3,"date":21,"hours":12,"minutes":35,"seconds":14,"utc":true}, "type": "temporal", "title": null},
            "y": {"field": "p", "type": "quantitative", "title": null},
            "text": {"field": "name"}
          }
        },
        {
          "data": {"name": "levels"},
          "transform": [{"filter": "datum.kind == 'faint' || datum.kind == 'line'"}],
          "mark": {"type": "tick", "orient": "horizontal", "size": 40, "thickness": 10, "color": "#fbee1e", "opacity": 1},
          "encoding": {
            "x": {"datum": {"year":2018,"month":3,"date":21,"hours":12,"minutes":38,"seconds":10,"utc":true}, "type": "temporal", "title": null},
            "y": {"field": "p", "type": "quantitative", "title": null}
          }
        },
        {
          "data": {"name": "levels"},
          "transform": [{"filter": "datum.kind == 'faint' || datum.kind == 'line'"}],
          "mark": {"type": "text", "align": "center", "baseline": "middle", "fontSize": 7, "color": "#ffffff"},
          "encoding": {
            "x": {"datum": {"year":2018,"month":3,"date":21,"hours":12,"minutes":38,"seconds":10,"utc":true}, "type": "temporal", "title": null},
            "y": {"field": "p", "type": "quantitative", "title": null},
            "text": {"field": "p", "format": ".5f"}
          }
        },
        {
          "data": {"values": [{}]},
          "mark": {"type": "tick", "orient": "horizontal", "size": 40, "thickness": 10, "color": "#56637f"},
          "encoding": {
            "x": {"datum": {"year":2018,"month":3,"date":21,"hours":12,"minutes":38,"seconds":10,"utc":true}, "type": "temporal", "title": null},
            "y": {"datum": 1.22746, "type": "quantitative", "title": null}
          }
        },
        {
          "data": {"values": [{}]},
          "mark": {"type": "text", "align": "center", "baseline": "middle", "fontSize": 8.5, "color": "#ffffff"},
          "encoding": {
            "x": {"datum": {"year":2018,"month":3,"date":21,"hours":12,"minutes":38,"seconds":10,"utc":true}, "type": "temporal", "title": null},
            "y": {"datum": 1.22746, "type": "quantitative", "title": null},
            "text": {"value": "1.22746"}
          }
        }
      ]
    },
    {
      "width": 1438,
      "height": 185,
      "layer": [
        {
          "data": {"name": "bars"},
          "mark": {"type": "bar", "size": 6},
          "encoding": {
            "x": {"field": "t", "type": "temporal", "scale": {"type": "utc", "domain": [{"year":2018,"month":3,"date":21,"hours":9,"minutes":26,"seconds":47,"utc":true},{"year":2018,"month":3,"date":21,"hours":12,"minutes":35,"seconds":14,"utc":true}]},
              "axis": {"title": null, "zindex": 0, "labelAlign": "left", "labelPadding": 2, "labelOverlap": false, "labelFlush": false,
                "labelExpr": "utcFormat(datum.value, '%H:%M') == '09:27' ? '21 Mar 2018' : utcFormat(datum.value, '%d %b %H:%M')",
                "values": [
                  {"year":2018,"month":3,"date":21,"hours":9,"minutes":27,"utc":true},
                  {"year":2018,"month":3,"date":21,"hours":9,"minutes":35,"utc":true},
                  {"year":2018,"month":3,"date":21,"hours":9,"minutes":43,"utc":true},
                  {"year":2018,"month":3,"date":21,"hours":9,"minutes":51,"utc":true},
                  {"year":2018,"month":3,"date":21,"hours":9,"minutes":59,"utc":true},
                  {"year":2018,"month":3,"date":21,"hours":10,"minutes":7,"utc":true},
                  {"year":2018,"month":3,"date":21,"hours":10,"minutes":15,"utc":true},
                  {"year":2018,"month":3,"date":21,"hours":10,"minutes":23,"utc":true},
                  {"year":2018,"month":3,"date":21,"hours":10,"minutes":31,"utc":true},
                  {"year":2018,"month":3,"date":21,"hours":10,"minutes":39,"utc":true},
                  {"year":2018,"month":3,"date":21,"hours":10,"minutes":47,"utc":true},
                  {"year":2018,"month":3,"date":21,"hours":10,"minutes":55,"utc":true},
                  {"year":2018,"month":3,"date":21,"hours":11,"minutes":3,"utc":true},
                  {"year":2018,"month":3,"date":21,"hours":11,"minutes":11,"utc":true},
                  {"year":2018,"month":3,"date":21,"hours":11,"minutes":19,"utc":true},
                  {"year":2018,"month":3,"date":21,"hours":11,"minutes":27,"utc":true},
                  {"year":2018,"month":3,"date":21,"hours":11,"minutes":35,"utc":true},
                  {"year":2018,"month":3,"date":21,"hours":11,"minutes":43,"utc":true},
                  {"year":2018,"month":3,"date":21,"hours":11,"minutes":51,"utc":true},
                  {"year":2018,"month":3,"date":21,"hours":11,"minutes":59,"utc":true},
                  {"year":2018,"month":3,"date":21,"hours":12,"minutes":7,"utc":true},
                  {"year":2018,"month":3,"date":21,"hours":12,"minutes":15,"utc":true}
                ]}},
            "y": {"field": "v", "type": "quantitative", "scale": {"domain": [0, 296], "nice": false}, "axis": {"orient": "right", "title": null, "values": [0, 296], "labelFlush": true, "labelPadding": 3, "labelOffset": {"condition": {"test": "datum.value == 0", "value": -7}, "value": 0}}},
            "color": {"field": "k", "type": "nominal", "scale": {"domain": ["normal", "low", "climax"], "range": ["#4a82b7", "#24326c", "#ffe600"]}, "legend": null}
          }
        },
        {
          "data": {"values": [{}]},
          "mark": {"type": "rule", "color": "#8d91a0", "strokeWidth": 1},
          "encoding": {"x": {"datum": {"year":2018,"month":3,"date":21,"hours":10,"minutes":46,"seconds":27,"utc":true}, "type": "temporal", "title": null}}
        },
        {
          "data": {"values": [{}]},
          "mark": {"type": "text", "align": "left", "baseline": "middle", "fontSize": 9, "color": "#8a8d9c"},
          "encoding": {
            "x": {"datum": {"year":2018,"month":3,"date":21,"hours":9,"minutes":27,"seconds":30,"utc":true}, "type": "temporal", "title": null},
            "y": {"datum": 282, "type": "quantitative", "title": null},
            "text": {"value": "iBetterVolume 9"}
          }
        },
        {
          "data": {"values": [{}]},
          "mark": {"type": "rect", "color": "#4e5d80"},
          "encoding": {
            "x": {"datum": {"year":2018,"month":3,"date":21,"hours":10,"minutes":41,"seconds":38,"utc":true}, "type": "temporal", "title": null},
            "x2": {"datum": {"year":2018,"month":3,"date":21,"hours":10,"minutes":51,"seconds":19,"utc":true}},
            "y": {"datum": -3, "type": "quantitative", "title": null},
            "y2": {"datum": -23}
          }
        },
        {
          "data": {"values": [{}]},
          "mark": {"type": "text", "align": "center", "baseline": "middle", "fontSize": 9, "color": "#ffffff"},
          "encoding": {
            "x": {"datum": {"year":2018,"month":3,"date":21,"hours":10,"minutes":46,"seconds":27,"utc":true}, "type": "temporal", "title": null},
            "y": {"datum": -13.5, "type": "quantitative", "title": null},
            "text": {"value": "2018.03.21 10:46"}
          }
        }
      ]
    }
  ]
}
